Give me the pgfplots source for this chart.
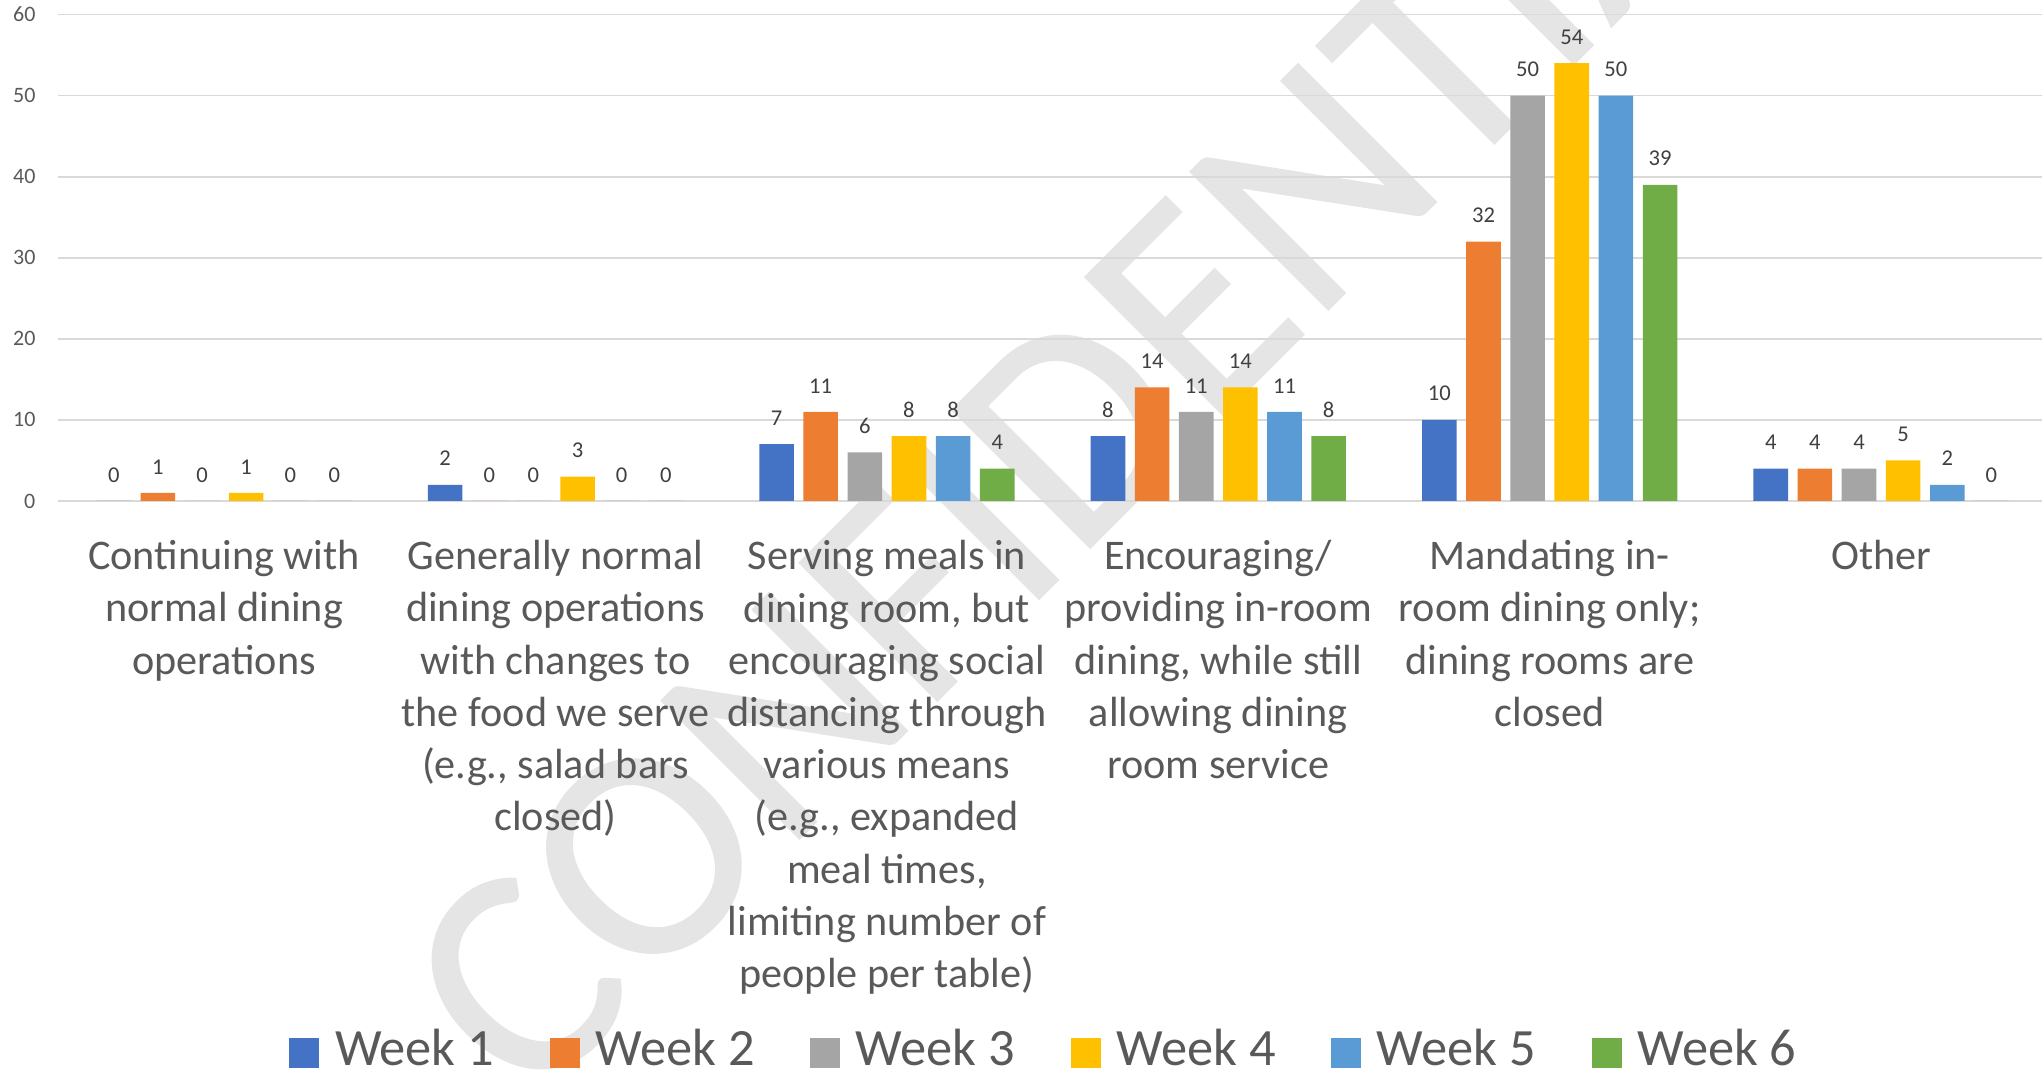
\documentclass[border=0pt]{standalone}
\usepackage{pgfplots}
\pgfplotsset{compat=1.18}
\usepackage{fontspec}
\setmainfont{Carlito}
\newfontfamily\wmfont{Carlito}[FakeBold=0.6]
\definecolor{c1}{HTML}{4472C4}
\definecolor{c2}{HTML}{ED7D31}
\definecolor{c3}{HTML}{A5A5A5}
\definecolor{c4}{HTML}{FFC000}
\definecolor{c5}{HTML}{5B9BD5}
\definecolor{c6}{HTML}{70AD47}
\definecolor{txt}{HTML}{595959}
\definecolor{lbl}{HTML}{404040}
\definecolor{gridc}{HTML}{D9D9D9}
\definecolor{wm}{HTML}{E5E5E5}
\newcommand{\fl}{\rule{0pt}{17pt}}
\begin{document}
\begin{tikzpicture}
\path[use as bounding box] (0,0) rectangle (1021pt,540.5pt);
\node[rotate=45, text=wm, font=\wmfont\fontsize{152}{152}\selectfont, inner sep=0pt] at (554pt,344.5pt) {CONFIDENTIAL};
\begin{axis}[
  at={(29.2pt,290pt)}, anchor=south west,
  scale only axis, width=994.2pt, height=243.25pt,
  xmin=0, xmax=6, ymin=0, ymax=60,
  ybar, bar width=17.3pt,
  ytick={0,10,...,60},
  xtick={0.5,1.5,2.5,3.5,4.5,5.5},
  xticklabels={
    {\fl Continuing with\\normal dining\\operations},
    {\fl Generally normal\\dining operations\\with changes to\\the food we serve\\(e.g., salad bars\\closed)},
    {\fl Serving meals in\\dining room, but\\encouraging social\\distancing through\\various means\\(e.g., expanded\\meal times,\\limiting number of\\people per table)},
    {\fl Encouraging/\\providing in-room\\dining, while still\\allowing dining\\room service},
    {\fl Mandating in-\\room dining only;\\dining rooms are\\closed},
    {\fl Other}},
  axis line style={draw=none},
  major tick length=0pt,
  ymajorgrids, grid style={gridc, line width=0.9pt},
  /pgf/number format/assume math mode=true,
  yticklabel style={font=\fontsize{11}{13}\selectfont, text=txt, anchor=east, inner sep=0pt, xshift=-11.3pt},
  xticklabel style={font=\fontsize{21.1}{26.1}\selectfont, text=txt, align=center, anchor=north, inner sep=0pt, yshift=-17.2pt},
  nodes near coords,
  every node near coord/.append style={font=\fontsize{11.3}{13}\selectfont, text=lbl, anchor=south, inner sep=0pt, yshift=9.2pt},
  legend columns=6,
  legend cell align=left,
  legend style={at={(0.1162,-1.1665)}, anchor=south west, draw=none, fill=none,
    inner sep=0pt, outer sep=0pt, font=\fontsize{26.2}{31}\selectfont, text=txt,
    cells={anchor=base west}, nodes={inner sep=0pt},
    /tikz/every odd column/.style={column sep=7.8pt},
    /tikz/every even column/.style={column sep=27.9pt}},
  legend image code/.code={\fill[#1,draw=none] (0pt,-1.25pt) rectangle (15pt,13.75pt);},
]
\addplot[fill=c1, draw=none, bar shift=-55.175pt] coordinates {(0.5,0) (1.5,2) (2.5,7) (3.5,8) (4.5,10) (5.5,4)};
\addplot[fill=c2, draw=none, bar shift=-33.105pt] coordinates {(0.5,1) (1.5,0) (2.5,11) (3.5,14) (4.5,32) (5.5,4)};
\addplot[fill=c3, draw=none, bar shift=-11.035pt] coordinates {(0.5,0) (1.5,0) (2.5,6) (3.5,11) (4.5,50) (5.5,4)};
\addplot[fill=c4, draw=none, bar shift=11.035pt] coordinates {(0.5,1) (1.5,3) (2.5,8) (3.5,14) (4.5,54) (5.5,5)};
\addplot[fill=c5, draw=none, bar shift=33.105pt] coordinates {(0.5,0) (1.5,0) (2.5,8) (3.5,11) (4.5,50) (5.5,2)};
\addplot[fill=c6, draw=none, bar shift=55.175pt] coordinates {(0.5,0) (1.5,0) (2.5,4) (3.5,8) (4.5,39) (5.5,0)};
\legend{Week 1,Week 2,Week 3,Week 4,Week 5,Week 6}
\end{axis}
\end{tikzpicture}
\end{document}
